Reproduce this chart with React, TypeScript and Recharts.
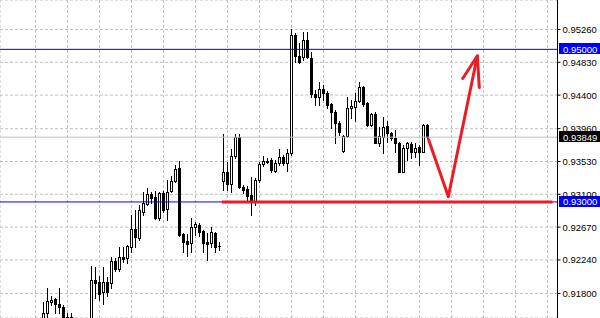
import { ComposedChart, Bar, XAxis, YAxis, CartesianGrid, ReferenceLine } from "recharts";

// bar index of the first candle in the arrays below
const firstBar = 10;

const opens = [
  0.91453, 0.91541, 0.91689, 0.91724, 0.91662, 0.91627, 0.91492, 0.9144, 0.9143, 0.9138,
  0.9134, 0.9136, 0.9142, 0.91977, 0.91951, 0.9182, 0.91951, 0.91938, 0.92226, 0.92121,
  0.92278, 0.92265, 0.92409, 0.92645, 0.92527, 0.92868, 0.92973, 0.93104, 0.93065, 0.9279,
  0.93117, 0.92907, 0.93143, 0.93274, 0.93445, 0.9258, 0.92488, 0.92462, 0.92672, 0.92698,
  0.92619, 0.92475, 0.92462, 0.92593, 0.92423, 0.93274, 0.93392, 0.93235, 0.93602, 0.93851,
  0.93196, 0.9317, 0.93091, 0.92999, 0.93288, 0.93497, 0.93527, 0.9355, 0.93406, 0.9351,
  0.93589, 0.9351, 0.93641, 0.95188, 0.94913, 0.949, 0.95122, 0.94893, 0.94421, 0.94369,
  0.9448, 0.94434, 0.9428, 0.94175, 0.94041, 0.93674, 0.93864, 0.94227, 0.94248, 0.94323,
  0.94502, 0.94293, 0.94008, 0.94159, 0.93776, 0.93855, 0.93995, 0.93904, 0.93834, 0.93769,
  0.93396, 0.93703, 0.93759, 0.93658, 0.93716, 0.93658, 0.94008,
];

const highs = [
  0.91693, 0.91868, 0.91767, 0.91737, 0.91868, 0.91649, 0.91541, 0.91541, 0.9146, 0.9142,
  0.914, 0.9145, 0.9216, 0.92147, 0.92029, 0.92147, 0.92016, 0.92278, 0.92265, 0.92409,
  0.92409, 0.92436, 0.92829, 0.92894, 0.9296, 0.9313, 0.93183, 0.9313, 0.93143, 0.9313,
  0.93143, 0.93288, 0.9334, 0.93484, 0.93537, 0.92593, 0.9258, 0.9279, 0.92737, 0.92724,
  0.92632, 0.92593, 0.92672, 0.92606, 0.92475, 0.9389, 0.93523, 0.93694, 0.9389, 0.9389,
  0.93222, 0.93209, 0.93327, 0.93314, 0.93523, 0.93602, 0.93576, 0.93576, 0.9355, 0.93694,
  0.93615, 0.93694, 0.95273, 0.95214, 0.9508, 0.95227, 0.95227, 0.94965, 0.94467, 0.94576,
  0.94533, 0.94454, 0.94297, 0.94205, 0.94061, 0.93877, 0.94379, 0.94336, 0.94424, 0.94576,
  0.9452, 0.9431, 0.94172, 0.94183, 0.93986, 0.94117, 0.94065, 0.93921, 0.93943, 0.9378,
  0.93746, 0.9379, 0.9379, 0.93769, 0.93746, 0.94022, 0.94022,
];

const lows = [
  0.91427, 0.91496, 0.91649, 0.91548, 0.91541, 0.91427, 0.91374, 0.9138, 0.9135, 0.913,
  0.9129, 0.9133, 0.914, 0.91741, 0.91715, 0.91662, 0.91767, 0.91872, 0.92095, 0.92095,
  0.92213, 0.922, 0.92344, 0.92409, 0.92501, 0.92829, 0.9296, 0.92986, 0.92776, 0.92763,
  0.92868, 0.92763, 0.9313, 0.93261, 0.92554, 0.92344, 0.92292, 0.92344, 0.92567, 0.92554,
  0.92344, 0.92239, 0.92409, 0.92344, 0.9237, 0.93157, 0.93157, 0.9313, 0.93576, 0.93183,
  0.93117, 0.93025, 0.92829, 0.9296, 0.93261, 0.93471, 0.9351, 0.93392, 0.93392, 0.93484,
  0.93484, 0.93406, 0.93615, 0.94834, 0.94821, 0.9486, 0.94887, 0.94375, 0.94271, 0.94271,
  0.94336, 0.94231, 0.93973, 0.93769, 0.93877, 0.93655, 0.93851, 0.941, 0.94061, 0.9431,
  0.94257, 0.93995, 0.93995, 0.93772, 0.93733, 0.93638, 0.9379, 0.93812, 0.93658, 0.9339,
  0.9339, 0.9355, 0.93572, 0.93593, 0.93484, 0.93655, 0.93838,
];

const closes = [
  0.91548, 0.91702, 0.91715, 0.91658, 0.91619, 0.91453, 0.91427, 0.91492, 0.9138, 0.9134,
  0.9136, 0.9141, 0.91977, 0.91938, 0.91793, 0.91951, 0.9182, 0.92226, 0.92121, 0.92278,
  0.92252, 0.92423, 0.92645, 0.92541, 0.92894, 0.92986, 0.93104, 0.93052, 0.9279, 0.93117,
  0.92894, 0.9313, 0.93274, 0.93432, 0.92567, 0.92475, 0.92449, 0.92672, 0.92711, 0.92606,
  0.92462, 0.92455, 0.92606, 0.92409, 0.9242, 0.93392, 0.93235, 0.93602, 0.93851, 0.93196,
  0.93157, 0.93078, 0.93012, 0.93288, 0.93497, 0.93537, 0.93533, 0.93419, 0.9351, 0.93589,
  0.9351, 0.93641, 0.95188, 0.94913, 0.94834, 0.95122, 0.949, 0.94415, 0.94369, 0.9448,
  0.94434, 0.94271, 0.94175, 0.94041, 0.93917, 0.93858, 0.94227, 0.94257, 0.94323, 0.94502,
  0.94284, 0.94008, 0.94159, 0.93776, 0.93864, 0.93986, 0.939, 0.93834, 0.93769, 0.93396,
  0.93711, 0.93776, 0.93658, 0.93711, 0.93658, 0.94008, 0.93849,
];

const priceTicks = [0.9526, 0.9483, 0.944, 0.9396, 0.9353, 0.931, 0.9267, 0.9224, 0.918];
const gridBars = [0, 8, 16, 24, 32, 40, 48, 56, 64, 72, 80, 88, 96, 104, 112, 120, 128, 136];

const resistance = 0.95;
const support = 0.93;
const bid = 0.93849;

// hand-drawn marks: thick support stroke and the V-shaped arrow
const supportStroke = [
  { i: 54.6, p: 0.93 },
  { i: 137.25, p: 0.93 },
];
const arrowPath = [
  { i: 106.25, p: 0.93818 },
  { i: 111.2, p: 0.93071 },
  { i: 118.45, p: 0.94913 },
];
const arrowHead = [
  { i: 114.8, p: 0.94618 },
  { i: 118.45, p: 0.94913 },
  { i: 118.95, p: 0.945 },
];

const candles = opens.map((o, j) => ({
  i: firstBar + j,
  o,
  h: highs[j],
  l: lows[j],
  c: closes[j],
  range: [lows[j], highs[j]],
}));

const RED = "#ed1c24";
const FONT = "Liberation Sans, Arial, sans-serif";

function Candle(props: any) {
  const { x, y, width, height, payload } = props;
  if (x == null || y == null || !payload) return null;
  const { o, h, l, c } = payload;
  const top = Math.min(y, y + height);
  const bottom = Math.max(y, y + height);
  const span = h - l;
  const toY = (v: number) => (span > 0 ? top + ((h - v) / span) * (bottom - top) : top);
  const cx = Math.floor(x + width / 2) + 0.5;
  const yo = Math.round(toY(o));
  const yc = Math.round(toY(c));
  const bTop = Math.min(yo, yc);
  const bBot = Math.max(yo, yc);
  let body;
  if (bBot - bTop < 1) {
    body = <line x1={cx - 1.5} x2={cx + 1.5} y1={bTop + 0.5} y2={bTop + 0.5} stroke="#000" />;
  } else if (c > o) {
    body = <rect x={cx - 1} y={bTop + 0.5} width={2} height={bBot - bTop} fill="#fff" stroke="#000" />;
  } else {
    body = <rect x={cx - 1.5} y={bTop} width={3} height={bBot - bTop + 1} fill="#000" />;
  }
  return (
    <g shapeRendering="crispEdges">
      <line x1={cx} x2={cx} y1={Math.round(top)} y2={Math.round(bottom) + 1} stroke="#000" />
      {body}
    </g>
  );
}

const PriceTick = ({ x, y, payload }: any) => (
  <text x={x} y={y} dy={3.5} fontSize={9.5} fontFamily={FONT} fill="#000" textAnchor="start">
    {Number(payload.value).toFixed(5)}
  </text>
);

const PriceTag = ({ viewBox, price, bg }: any) => {
  if (!viewBox) return null;
  const left = Math.ceil(viewBox.x + viewBox.width) + 1;
  const y = viewBox.y;
  return (
    <g>
      <rect x={left} y={Math.round(y) - 6} width={45} height={11} fill={bg} />
      <text x={left + 4} y={y + 3.5} fontSize={9.5} fontFamily={FONT} fill="#fff">
        {price.toFixed(5)}
      </text>
    </g>
  );
};

const seg = (a: { i: number; p: number }, b: { i: number; p: number }) => [
  { x: a.i, y: a.p },
  { x: b.i, y: b.p },
];

export default function App() {
  return (
    <div style={{ width: 600, height: 318, background: "#fff" }}>
      <style>{"body{margin:0}"}</style>
      <ComposedChart
        width={600}
        height={318}
        data={candles}
        margin={{ top: 0, right: 0, bottom: 0, left: 0 }}
      >
        <CartesianGrid stroke="#c0c0c0" strokeDasharray="3 2" />
        <XAxis
          type="number"
          dataKey="i"
          domain={[-0.875, 138.5]}
          allowDataOverflow
          ticks={gridBars}
          hide
        />
        <YAxis
          orientation="right"
          width={42.5}
          domain={[0.914789, 0.956466]}
          allowDataOverflow
          ticks={priceTicks}
          tick={<PriceTick />}
          tickSize={3}
          tickLine={{ stroke: "#000" }}
          axisLine={{ stroke: "#000" }}
          interval={0}
        />
        <ReferenceLine
          y={bid}
          stroke="#c0c0c0"
          label={<PriceTag price={bid} bg="#000" />}
        />
        <Bar dataKey="range" barSize={3} isAnimationActive={false} shape={<Candle />} />
        <ReferenceLine
          y={resistance}
          stroke="#0000cd"
          label={<PriceTag price={resistance} bg="#0000ff" />}
        />
        <ReferenceLine
          y={support}
          stroke="#0000ff"
          label={<PriceTag price={support} bg="#0000ff" />}
        />
        <ReferenceLine
          segment={seg(supportStroke[0], supportStroke[1])}
          stroke={RED}
          strokeWidth={3}
        />
        <ReferenceLine segment={seg(arrowPath[0], arrowPath[1])} stroke={RED} strokeWidth={3} strokeLinecap="round" />
        <ReferenceLine segment={seg(arrowPath[1], arrowPath[2])} stroke={RED} strokeWidth={3} strokeLinecap="round" />
        <ReferenceLine segment={seg(arrowHead[0], arrowHead[1])} stroke={RED} strokeWidth={3} strokeLinecap="round" />
        <ReferenceLine segment={seg(arrowHead[1], arrowHead[2])} stroke={RED} strokeWidth={3} strokeLinecap="round" />
      </ComposedChart>
    </div>
  );
}
